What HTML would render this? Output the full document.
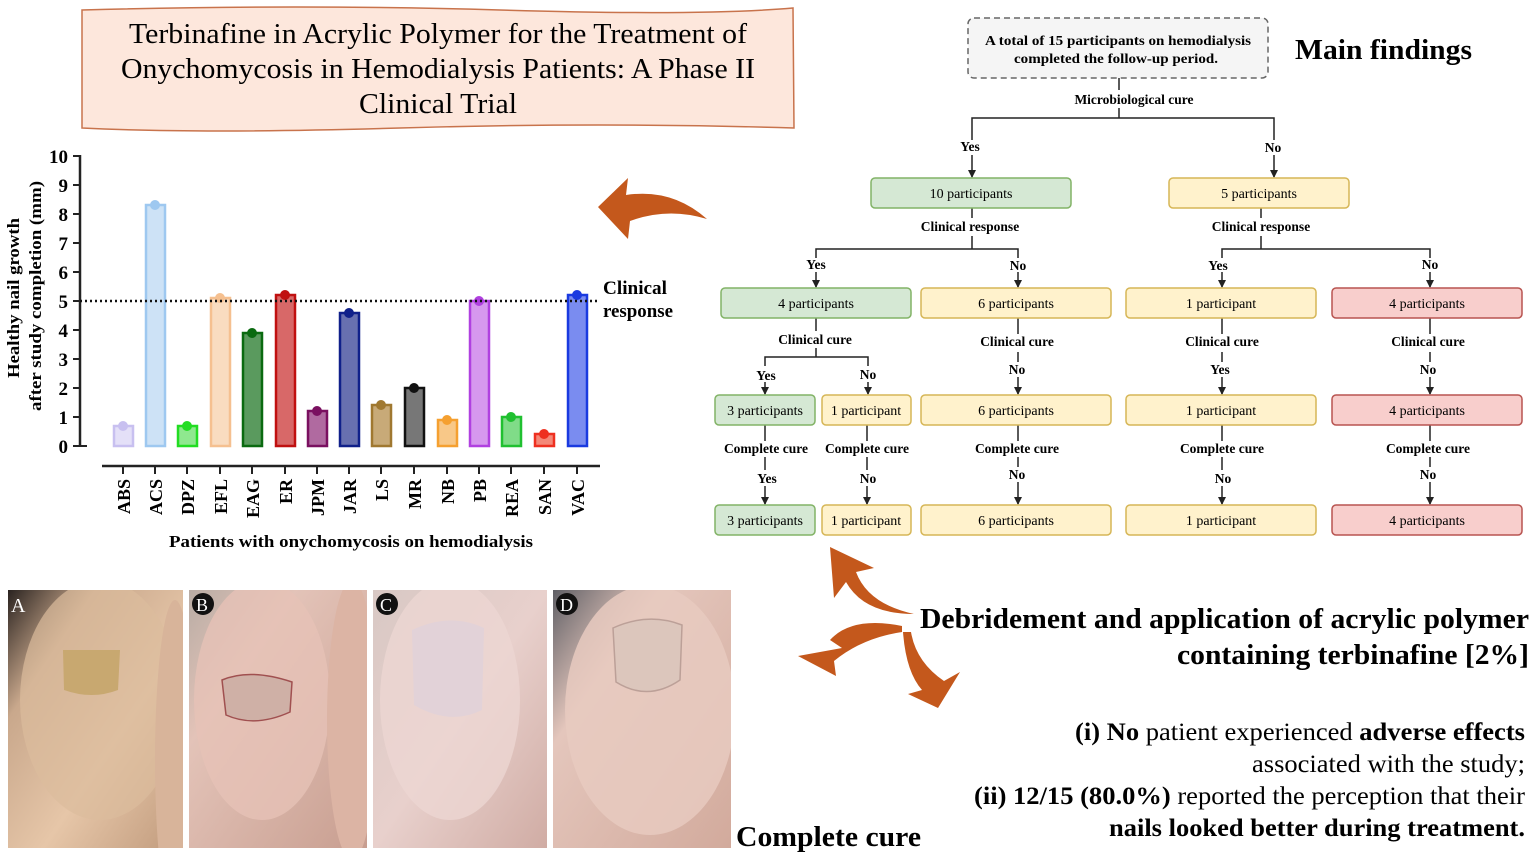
<!DOCTYPE html>
<html><head><meta charset="utf-8"><style>
html,body{margin:0;padding:0;background:#fff;width:1535px;height:860px;overflow:hidden;}
svg{display:block;}
text{font-family:"Liberation Serif","DejaVu Serif",serif;}
.b{font-weight:bold;}
</style></head><body>
<svg width="1535" height="860" viewBox="0 0 1535 860" xmlns="http://www.w3.org/2000/svg">
<defs>
<marker id="ar" markerWidth="8" markerHeight="8" refX="7" refY="4" orient="auto" markerUnits="userSpaceOnUse"><path d="M0,0 L8,4 L0,8 Z" fill="#222"/></marker>
<linearGradient id="pa" x1="0" y1="0" x2="1" y2="1"><stop offset="0" stop-color="#2a2320"/><stop offset="0.25" stop-color="#c9a88c"/><stop offset="0.6" stop-color="#e6c6a8"/><stop offset="1" stop-color="#c09a7c"/></linearGradient>
<linearGradient id="pb" x1="0" y1="0" x2="1" y2="1"><stop offset="0" stop-color="#b8aca4"/><stop offset="0.3" stop-color="#e3c3b8"/><stop offset="1" stop-color="#c89e90"/></linearGradient>
<linearGradient id="pc" x1="0" y1="0" x2="1" y2="1"><stop offset="0" stop-color="#d8c8c4"/><stop offset="0.5" stop-color="#e8d0cc"/><stop offset="1" stop-color="#d0aca4"/></linearGradient>
<linearGradient id="pd" x1="0" y1="0" x2="1" y2="1"><stop offset="0" stop-color="#606066"/><stop offset="0.3" stop-color="#e4c6bc"/><stop offset="1" stop-color="#d2aa9c"/></linearGradient>
<clipPath id="ca"><rect x="8" y="590" width="175" height="258"/></clipPath>
<clipPath id="cb"><rect x="189" y="590" width="178" height="258"/></clipPath>
<clipPath id="cc"><rect x="373" y="590" width="174" height="258"/></clipPath>
<clipPath id="cd"><rect x="553" y="590" width="178" height="258"/></clipPath>
</defs>

<path d="M82,10 Q300,4 500,10 T793,8 L794,128 Q600,122 400,128 T82,128 Z" fill="#fde7dc" stroke="#c8734c" stroke-width="1.5"/>
<text x="438" y="43" font-size="29" text-anchor="middle" textLength="618" lengthAdjust="spacingAndGlyphs">Terbinafine in Acrylic Polymer for the Treatment of</text>
<text x="438" y="78" font-size="29" text-anchor="middle" textLength="634" lengthAdjust="spacingAndGlyphs">Onychomycosis in Hemodialysis Patients: A Phase II</text>
<text x="438" y="113" font-size="29" text-anchor="middle" textLength="158" lengthAdjust="spacingAndGlyphs">Clinical Trial</text>

<g stroke="#222" stroke-width="2.5" fill="none">
<line x1="80" y1="155" x2="80" y2="447"/>
<line x1="102" y1="466" x2="600" y2="466"/>
</g>
<g stroke="#222" stroke-width="2">
<line x1="73" y1="156" x2="80" y2="156"/><line x1="73" y1="185" x2="80" y2="185"/><line x1="73" y1="214" x2="80" y2="214"/><line x1="73" y1="243" x2="80" y2="243"/><line x1="73" y1="272" x2="80" y2="272"/><line x1="73" y1="301" x2="80" y2="301"/><line x1="73" y1="330" x2="80" y2="330"/><line x1="73" y1="359" x2="80" y2="359"/><line x1="73" y1="388" x2="80" y2="388"/><line x1="73" y1="417" x2="80" y2="417"/><line x1="73" y1="446" x2="87" y2="446"/>
</g>
<g class="b" font-size="19" text-anchor="end">
<text x="68" y="163">10</text><text x="68" y="192">9</text><text x="68" y="221">8</text><text x="68" y="250">7</text><text x="68" y="279">6</text><text x="68" y="308">5</text><text x="68" y="337">4</text><text x="68" y="366">3</text><text x="68" y="395">2</text><text x="68" y="424">1</text><text x="68" y="453">0</text>
</g>
<text class="b" font-size="17" transform="translate(19,298) rotate(-90)" text-anchor="middle" textLength="160" lengthAdjust="spacingAndGlyphs">Healthy nail growth</text>
<text class="b" font-size="17" transform="translate(41,296) rotate(-90)" text-anchor="middle" textLength="230" lengthAdjust="spacingAndGlyphs">after study completion (mm)</text>

<g stroke-width="2.5">
<rect x="114" y="426" width="19" height="20" fill="#e4e0f8" stroke="#c8c0f0"/>
<rect x="146" y="205" width="19" height="241" fill="#cde2f6" stroke="#9ec8f0"/>
<rect x="178" y="426" width="19" height="20" fill="#8fe88f" stroke="#22dd22"/>
<rect x="211" y="298" width="19" height="148" fill="#f9dcc0" stroke="#f5c090"/>
<rect x="243" y="333" width="19" height="113" fill="#5a9a5e" stroke="#0a6a10"/>
<rect x="276" y="295" width="19" height="151" fill="#d86868" stroke="#c01010"/>
<rect x="308" y="411" width="19" height="35" fill="#b06aa0" stroke="#7a1060"/>
<rect x="340" y="313" width="19" height="133" fill="#6870b0" stroke="#10208a"/>
<rect x="372" y="405" width="19" height="41" fill="#c8aa78" stroke="#a07830"/>
<rect x="405" y="388" width="19" height="58" fill="#777" stroke="#111"/>
<rect x="438" y="420" width="19" height="26" fill="#f8c888" stroke="#f5a030"/>
<rect x="470" y="301" width="19" height="145" fill="#d698ee" stroke="#b040e0"/>
<rect x="502" y="417" width="19" height="29" fill="#80dc88" stroke="#20c030"/>
<rect x="535" y="434" width="19" height="12" fill="#f48878" stroke="#ee3020"/>
<rect x="568" y="295" width="19" height="151" fill="#7a8cf0" stroke="#1a3ae0"/>
</g>
<g>
<circle cx="123" cy="426" r="5" fill="#c8c0f0"/><circle cx="155" cy="205" r="5" fill="#9ec8f0"/><circle cx="187" cy="426" r="5" fill="#22dd22"/><circle cx="220" cy="298" r="5" fill="#f5c090"/><circle cx="252" cy="333" r="5" fill="#0a6a10"/><circle cx="285" cy="295" r="5" fill="#c01010"/><circle cx="317" cy="411" r="5" fill="#7a1060"/><circle cx="349" cy="313" r="5" fill="#10208a"/><circle cx="381" cy="405" r="5" fill="#a07830"/><circle cx="414" cy="388" r="5" fill="#111"/><circle cx="447" cy="420" r="5" fill="#f5a030"/><circle cx="479" cy="301" r="5" fill="#b040e0"/><circle cx="511" cy="417" r="5" fill="#20c030"/><circle cx="544" cy="434" r="5" fill="#ee3020"/><circle cx="577" cy="295" r="5" fill="#1a3ae0"/>
</g>
<line x1="80" y1="301" x2="598" y2="301" stroke="#111" stroke-width="2.5" stroke-dasharray="2,3"/>
<text class="b" x="603" y="294" font-size="19" textLength="64" lengthAdjust="spacingAndGlyphs">Clinical</text>
<text class="b" x="603" y="317" font-size="19" textLength="70" lengthAdjust="spacingAndGlyphs">response</text>
<g stroke="#222" stroke-width="2">
<line x1="123" y1="466" x2="123" y2="474"/><line x1="155" y1="466" x2="155" y2="474"/><line x1="187" y1="466" x2="187" y2="474"/><line x1="220" y1="466" x2="220" y2="474"/><line x1="252" y1="466" x2="252" y2="474"/><line x1="285" y1="466" x2="285" y2="474"/><line x1="317" y1="466" x2="317" y2="474"/><line x1="349" y1="466" x2="349" y2="474"/><line x1="381" y1="466" x2="381" y2="474"/><line x1="414" y1="466" x2="414" y2="474"/><line x1="447" y1="466" x2="447" y2="474"/><line x1="479" y1="466" x2="479" y2="474"/><line x1="511" y1="466" x2="511" y2="474"/><line x1="544" y1="466" x2="544" y2="474"/><line x1="577" y1="466" x2="577" y2="474"/>
</g>
<g class="b" font-size="18" text-anchor="end">
<text transform="translate(130,479) rotate(-90)">ABS</text>
<text transform="translate(162,479) rotate(-90)">ACS</text>
<text transform="translate(194,479) rotate(-90)">DPZ</text>
<text transform="translate(227,479) rotate(-90)">EFL</text>
<text transform="translate(259,479) rotate(-90)">EAG</text>
<text transform="translate(292,479) rotate(-90)">ER</text>
<text transform="translate(324,479) rotate(-90)">JPM</text>
<text transform="translate(356,479) rotate(-90)">JAR</text>
<text transform="translate(388,479) rotate(-90)">LS</text>
<text transform="translate(421,479) rotate(-90)">MR</text>
<text transform="translate(454,479) rotate(-90)">NB</text>
<text transform="translate(486,479) rotate(-90)">PB</text>
<text transform="translate(518,479) rotate(-90)">REA</text>
<text transform="translate(551,479) rotate(-90)">SAN</text>
<text transform="translate(584,479) rotate(-90)">VAC</text>
</g>
<text class="b" x="351" y="547" font-size="17" text-anchor="middle" textLength="364" lengthAdjust="spacingAndGlyphs">Patients with onychomycosis on hemodialysis</text>

<g fill="#c4581c">
<path d="M598,207 L628,178 L626,195 Q672,188 707,219 Q668,207 630,221 L628,239 Z"/>
<path d="M914,614 Q868,604 856,572 L874,568 L830,547 L834,598 L846,582 Q864,614 914,614 Z"/>
<path d="M902,626 Q852,616 830,640 L842,648 L798,656 L836,676 L834,661 Q862,638 902,632 Z"/>
<path d="M903,632 Q906,672 922,690 L908,694 L938,708 L960,672 L944,681 Q916,662 911,632 Z"/>
</g>

<g clip-path="url(#ca)">
<rect x="8" y="590" width="175" height="258" fill="url(#pa)"/>
<ellipse cx="100" cy="700" rx="80" ry="120" fill="#dcbc9c" opacity="0.7"/>
<ellipse cx="175" cy="760" rx="20" ry="160" fill="#d8b49a"/>
<path d="M63,650 L120,650 L118,690 Q92,700 64,690 Z" fill="#c8a870"/>
</g>
<g clip-path="url(#cb)">
<rect x="189" y="590" width="178" height="258" fill="url(#pb)"/>
<ellipse cx="262" cy="700" rx="68" ry="120" fill="#e6c2b6" opacity="0.8"/>
<ellipse cx="352" cy="720" rx="25" ry="140" fill="#dcb4a4"/>
<path d="M222,680 Q250,668 292,682 L290,712 Q255,728 226,715 Z" fill="#cfb0a6" stroke="#a05050" stroke-width="1.5"/>
</g>
<g clip-path="url(#cc)">
<rect x="373" y="590" width="174" height="258" fill="url(#pc)"/>
<ellipse cx="450" cy="700" rx="70" ry="120" fill="#ecd6d2" opacity="0.8"/>
<path d="M412,630 Q450,612 484,628 L482,710 Q450,726 414,705 Z" fill="#e2d2d8"/>
</g>
<g clip-path="url(#cd)">
<rect x="553" y="590" width="178" height="258" fill="url(#pd)"/>
<ellipse cx="650" cy="710" rx="85" ry="125" fill="#e8cac0" opacity="0.85"/>
<path d="M613,628 Q648,612 682,625 L680,680 Q648,702 616,682 Z" fill="#dcc6bc" stroke="#bca098" stroke-width="1.5"/>
</g>
<g font-size="20" fill="#fff">
<text x="11" y="612">A</text>
<circle cx="203" cy="604" r="11" fill="#111"/><text x="196" y="611" font-size="18">B</text>
<circle cx="387" cy="604" r="11" fill="#111"/><text x="380" y="611" font-size="18">C</text>
<circle cx="567" cy="604" r="11" fill="#111"/><text x="560" y="611" font-size="18">D</text>
</g>
<text class="b" x="736" y="846" font-size="29" textLength="185" lengthAdjust="spacingAndGlyphs">Complete cure</text>

<text class="b" x="1529" y="628" font-size="29" text-anchor="end" textLength="609" lengthAdjust="spacingAndGlyphs">Debridement and application of acrylic polymer</text>
<text class="b" x="1529" y="664" font-size="29" text-anchor="end" textLength="352" lengthAdjust="spacingAndGlyphs">containing terbinafine [2%]</text>
<text x="1525" y="740" font-size="25" text-anchor="end" textLength="450" lengthAdjust="spacingAndGlyphs"><tspan class="b">(i) No</tspan> patient experienced <tspan class="b">adverse effects</tspan></text>
<text x="1525" y="772" font-size="25" text-anchor="end" textLength="273" lengthAdjust="spacingAndGlyphs">associated with the study;</text>
<text x="1525" y="804" font-size="25" text-anchor="end" textLength="551" lengthAdjust="spacingAndGlyphs"><tspan class="b">(ii) 12/15 (80.0%)</tspan> reported the perception that their</text>
<text class="b" x="1525" y="836" font-size="25" text-anchor="end" textLength="416" lengthAdjust="spacingAndGlyphs">nails looked better during treatment.</text>

<rect x="968" y="18" width="300" height="60" rx="6" fill="#f5f5f5" stroke="#666" stroke-width="1.5" stroke-dasharray="6,4"/>
<text class="b" x="1118" y="45" font-size="14" text-anchor="middle" textLength="266" lengthAdjust="spacingAndGlyphs">A total of 15 participants on hemodialysis</text>
<text class="b" x="1116" y="63" font-size="14" text-anchor="middle" textLength="204" lengthAdjust="spacingAndGlyphs">completed the follow-up period.</text>
<text class="b" x="1295" y="59" font-size="29" textLength="177" lengthAdjust="spacingAndGlyphs">Main findings</text>

<g fill="none" stroke="#222" stroke-width="1.5">
<line x1="1119" y1="78" x2="1119" y2="90"/>
<line x1="1119" y1="108" x2="1119" y2="118"/>
<polyline points="972,140 972,118 1274,118 1274,140"/>
<line x1="972" y1="155" x2="972" y2="177" marker-end="url(#ar)"/>
<line x1="1274" y1="155" x2="1274" y2="177" marker-end="url(#ar)"/>
<line x1="972" y1="208" x2="972" y2="218"/><line x1="972" y1="236" x2="972" y2="249"/>
<polyline points="816,258 816,249 1018,249 1018,258"/>
<line x1="816" y1="272" x2="816" y2="287" marker-end="url(#ar)"/>
<line x1="1018" y1="272" x2="1018" y2="287" marker-end="url(#ar)"/>
<line x1="1261" y1="208" x2="1261" y2="218"/><line x1="1261" y1="236" x2="1261" y2="249"/>
<polyline points="1222,258 1222,249 1430,249 1430,258"/>
<line x1="1222" y1="272" x2="1222" y2="287" marker-end="url(#ar)"/>
<line x1="1430" y1="272" x2="1430" y2="287" marker-end="url(#ar)"/>
<line x1="816" y1="318" x2="816" y2="331"/><line x1="816" y1="348" x2="816" y2="357"/>
<polyline points="765,366 765,357 868,357 868,366"/>
<line x1="765" y1="382" x2="765" y2="394" marker-end="url(#ar)"/>
<line x1="868" y1="382" x2="868" y2="394" marker-end="url(#ar)"/>
<line x1="1018" y1="318" x2="1018" y2="334"/><line x1="1018" y1="352" x2="1018" y2="362"/><line x1="1018" y1="377" x2="1018" y2="394" marker-end="url(#ar)"/>
<line x1="1222" y1="318" x2="1222" y2="334"/><line x1="1222" y1="352" x2="1222" y2="362"/><line x1="1222" y1="377" x2="1222" y2="394" marker-end="url(#ar)"/>
<line x1="1430" y1="318" x2="1430" y2="334"/><line x1="1430" y1="352" x2="1430" y2="362"/><line x1="1430" y1="377" x2="1430" y2="394" marker-end="url(#ar)"/>
<line x1="765" y1="425" x2="765" y2="441"/><line x1="765" y1="457" x2="765" y2="470"/><line x1="765" y1="486" x2="765" y2="504" marker-end="url(#ar)"/>
<line x1="867" y1="425" x2="867" y2="441"/><line x1="867" y1="457" x2="867" y2="470"/><line x1="867" y1="486" x2="867" y2="504" marker-end="url(#ar)"/>
<line x1="1018" y1="425" x2="1018" y2="441"/><line x1="1018" y1="457" x2="1018" y2="467"/><line x1="1018" y1="482" x2="1018" y2="504" marker-end="url(#ar)"/>
<line x1="1222" y1="425" x2="1222" y2="441"/><line x1="1222" y1="457" x2="1222" y2="470"/><line x1="1222" y1="486" x2="1222" y2="504" marker-end="url(#ar)"/>
<line x1="1430" y1="425" x2="1430" y2="441"/><line x1="1430" y1="457" x2="1430" y2="467"/><line x1="1430" y1="482" x2="1430" y2="504" marker-end="url(#ar)"/>
</g>

<g stroke-width="1.5">
<rect x="871" y="178" width="200" height="30" rx="4" fill="#d5e8d4" stroke="#82b366"/>
<rect x="1169" y="178" width="180" height="30" rx="4" fill="#fff2cc" stroke="#d6b656"/>
<rect x="721" y="288" width="190" height="30" rx="4" fill="#d5e8d4" stroke="#82b366"/>
<rect x="921" y="288" width="190" height="30" rx="4" fill="#fff2cc" stroke="#d6b656"/>
<rect x="1126" y="288" width="190" height="30" rx="4" fill="#fff2cc" stroke="#d6b656"/>
<rect x="1332" y="288" width="190" height="30" rx="4" fill="#f8cecc" stroke="#b85450"/>
<rect x="715" y="395" width="100" height="30" rx="4" fill="#d5e8d4" stroke="#82b366"/>
<rect x="822" y="395" width="89" height="30" rx="4" fill="#fff2cc" stroke="#d6b656"/>
<rect x="921" y="395" width="190" height="30" rx="4" fill="#fff2cc" stroke="#d6b656"/>
<rect x="1126" y="395" width="190" height="30" rx="4" fill="#fff2cc" stroke="#d6b656"/>
<rect x="1332" y="395" width="190" height="30" rx="4" fill="#f8cecc" stroke="#b85450"/>
<rect x="715" y="505" width="100" height="30" rx="4" fill="#d5e8d4" stroke="#82b366"/>
<rect x="822" y="505" width="89" height="30" rx="4" fill="#fff2cc" stroke="#d6b656"/>
<rect x="921" y="505" width="190" height="30" rx="4" fill="#fff2cc" stroke="#d6b656"/>
<rect x="1126" y="505" width="190" height="30" rx="4" fill="#fff2cc" stroke="#d6b656"/>
<rect x="1332" y="505" width="190" height="30" rx="4" fill="#f8cecc" stroke="#b85450"/>
</g>

<g font-size="14" text-anchor="middle">
<text x="971" y="198">10 participants</text>
<text x="1259" y="198">5 participants</text>
<text x="816" y="308">4 participants</text>
<text x="1016" y="308">6 participants</text>
<text x="1221" y="308">1 participant</text>
<text x="1427" y="308">4 participants</text>
<text x="765" y="415">3 participants</text>
<text x="866" y="415">1 participant</text>
<text x="1016" y="415">6 participants</text>
<text x="1221" y="415">1 participant</text>
<text x="1427" y="415">4 participants</text>
<text x="765" y="525">3 participants</text>
<text x="866" y="525">1 participant</text>
<text x="1016" y="525">6 participants</text>
<text x="1221" y="525">1 participant</text>
<text x="1427" y="525">4 participants</text>
</g>

<g class="b" font-size="13.5" text-anchor="middle">
<text x="1134" y="104">Microbiological cure</text>
<text x="970" y="151">Yes</text><text x="1273" y="152">No</text>
<text x="970" y="231">Clinical response</text><text x="1261" y="231">Clinical response</text>
<text x="816" y="269">Yes</text><text x="1018" y="270">No</text><text x="1218" y="270">Yes</text><text x="1430" y="269">No</text>
<text x="815" y="344">Clinical cure</text><text x="1017" y="346">Clinical cure</text><text x="1222" y="346">Clinical cure</text><text x="1428" y="346">Clinical cure</text>
<text x="766" y="380">Yes</text><text x="868" y="379">No</text><text x="1017" y="374">No</text><text x="1220" y="374">Yes</text><text x="1428" y="374">No</text>
<text x="766" y="453">Complete cure</text><text x="867" y="453">Complete cure</text><text x="1017" y="453">Complete cure</text><text x="1222" y="453">Complete cure</text><text x="1428" y="453">Complete cure</text>
<text x="767" y="483">Yes</text><text x="868" y="483">No</text><text x="1017" y="479">No</text><text x="1223" y="483">No</text><text x="1428" y="479">No</text>
</g>
</svg>
</body></html>
